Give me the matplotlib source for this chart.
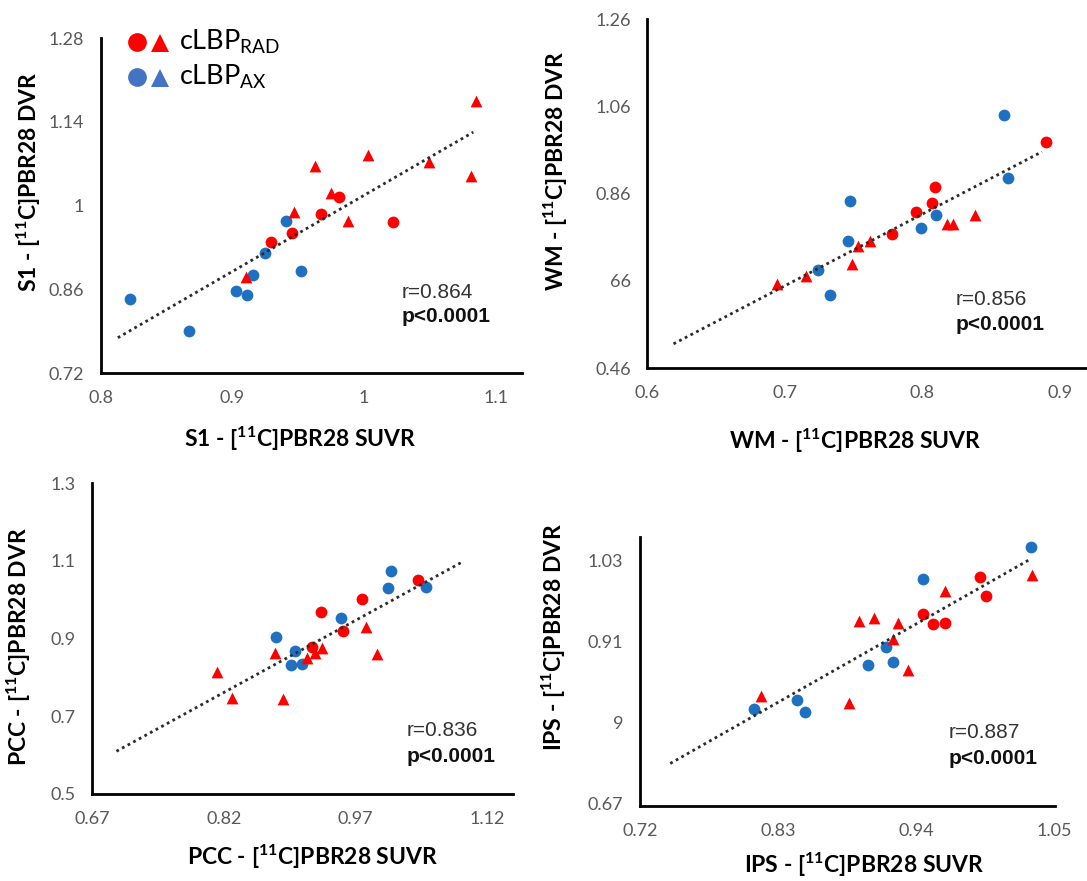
import matplotlib
matplotlib.use("Agg")
import matplotlib.pyplot as plt

plt.rcParams['font.family'] = ['Lato', 'DejaVu Sans']
plt.rcParams['mathtext.fontset'] = 'custom'
plt.rcParams['mathtext.rm'] = 'Lato'
plt.rcParams['mathtext.bf'] = 'Lato:bold'
plt.rcParams['mathtext.it'] = 'Lato:italic'

RED = '#FF0000'
BLUE = '#1F70C1'
LEG_BLUE = '#4472C4'
GREY = '#595959'

# --- S1 ---
s1_rad_circ_x = [0.981, 0.967, 1.022, 0.945, 0.929]
s1_rad_circ_y = [1.015, 0.986, 0.973, 0.955, 0.940]
s1_rad_tri_x = [1.085, 1.003, 1.049, 0.963, 1.081, 0.975, 0.947, 0.988, 0.910]
s1_rad_tri_y = [1.175, 1.084, 1.073, 1.066, 1.049, 1.021, 0.990, 0.975, 0.881]
s1_ax_x = [0.941, 0.925, 0.916, 0.952, 0.903, 0.911, 0.822, 0.867]
s1_ax_y = [0.975, 0.921, 0.884, 0.891, 0.857, 0.850, 0.843, 0.791]
s1_fit_x = [0.813, 1.083]
s1_fit_y = [0.779, 1.123]
s1_xticks = [0.8, 0.9, 1.0, 1.1]
s1_xlabels = ['0.8', '0.9', '1', '1.1']
s1_yticks = [0.72, 0.86, 1.0, 1.14, 1.28]
s1_ylabels = ['0.72', '0.86', '1', '1.14', '1.28']

# --- WM ---
wm_rad_circ_x = [0.890, 0.809, 0.807, 0.795, 0.778]
wm_rad_circ_y = [0.978, 0.875, 0.839, 0.817, 0.767]
wm_rad_tri_x = [0.838, 0.818, 0.8225, 0.762, 0.753, 0.7485, 0.7155, 0.694]
wm_rad_tri_y = [0.811, 0.790, 0.790, 0.752, 0.739, 0.698, 0.672, 0.653]
wm_ax_x = [0.859, 0.862, 0.747, 0.810, 0.799, 0.746, 0.724, 0.7325]
wm_ax_y = [1.039, 0.896, 0.843, 0.811, 0.782, 0.752, 0.684, 0.629]
wm_fit_x = [0.619, 0.887]
wm_fit_y = [0.516, 0.956]
wm_xticks = [0.6, 0.7, 0.8, 0.9]
wm_xlabels = ['0.6', '0.7', '0.8', '0.9']
wm_yticks = [0.46, 0.66, 0.86, 1.06, 1.26]
wm_ylabels = ['0.46', '66', '0.86', '1.06', '1.26']

# --- PCC ---
pcc_rad_circ_x = [1.041, 0.977, 0.931, 0.956, 0.921]
pcc_rad_circ_y = [1.051, 1.003, 0.969, 0.919, 0.879]
pcc_rad_tri_x = [0.982, 0.9146, 0.9237, 0.9317, 0.878, 0.994, 0.812, 0.829, 0.887]
pcc_rad_tri_y = [0.931, 0.851, 0.864, 0.877, 0.862, 0.860, 0.813, 0.747, 0.745]
pcc_ax_x = [1.011, 1.050, 1.007, 0.954, 0.8795, 0.901, 0.896, 0.909]
pcc_ax_y = [1.075, 1.034, 1.031, 0.953, 0.905, 0.869, 0.833, 0.836]
pcc_fit_x = [0.6975, 1.093]
pcc_fit_y = [0.610, 1.099]
pcc_xticks = [0.67, 0.82, 0.97, 1.12]
pcc_xlabels = ['0.67', '0.82', '0.97', '1.12']
pcc_yticks = [0.5, 0.7, 0.9, 1.1, 1.3]
pcc_ylabels = ['0.5', '0.7', '0.9', '1.1', '1.3']

# --- IPS ---
ips_rad_circ_x = [0.991, 0.995, 0.945, 0.953, 0.963]
ips_rad_circ_y = [1.006, 0.977, 0.951, 0.935, 0.937]
ips_rad_tri_x = [1.032, 0.963, 0.906, 0.894, 0.925, 0.921, 0.933, 0.816, 0.886]
ips_rad_tri_y = [1.008, 0.985, 0.945, 0.940, 0.937, 0.914, 0.868, 0.829, 0.818]
ips_ax_x = [1.031, 0.945, 0.916, 0.921, 0.9015, 0.845, 0.8106, 0.851]
ips_ax_y = [1.049, 1.003, 0.901, 0.879, 0.875, 0.823, 0.810, 0.806]
ips_fit_x = [0.744, 1.030]
ips_fit_y = [0.729, 1.031]
ips_xticks = [0.72, 0.83, 0.94, 1.05]
ips_xlabels = ['0.72', '0.83', '0.94', '1.05']
ips_yticks = [0.67, 0.79, 0.91, 1.03]
ips_ylabels = ['0.67', '9', '0.91', '1.03']

W, H = 1087, 881
fig = plt.figure(figsize=(W / 100, H / 100), dpi=100)


def rect(l, t, r, b):
    return [l / W, 1 - b / H, (r - l) / W, (b - t) / H]


def ftext(x, y, s, **kw):
    fig.text(x / W, 1 - y / H, s, **kw)


panels = [
    dict(name='S1', box=(100.7, 38.3, 522, 373), xlim=(0.8, 1.12), ylim=(0.72, 1.28),
         rc=(s1_rad_circ_x, s1_rad_circ_y), rt=(s1_rad_tri_x, s1_rad_tri_y), ax=(s1_ax_x, s1_ax_y),
         fit=(s1_fit_x, s1_fit_y), xt=(s1_xticks, s1_xlabels), yt=(s1_yticks, s1_ylabels),
         r='r=0.864', xl=(300, 439), yl=(29, 182), rp=(402, 292)),
    dict(name='WM', box=(647.4, 19, 1086, 368.3), xlim=(0.6, 0.919), ylim=(0.46, 1.26),
         rc=(wm_rad_circ_x, wm_rad_circ_y), rt=(wm_rad_tri_x, wm_rad_tri_y), ax=(wm_ax_x, wm_ax_y),
         fit=(wm_fit_x, wm_fit_y), xt=(wm_xticks, wm_xlabels), yt=(wm_yticks, wm_ylabels),
         r='r=0.856', xl=(855, 441), yl=(556, 171), rp=(956, 299)),
    dict(name='PCC', box=(92.3, 483.3, 512.5, 794), xlim=(0.67, 1.149), ylim=(0.5, 1.3),
         rc=(pcc_rad_circ_x, pcc_rad_circ_y), rt=(pcc_rad_tri_x, pcc_rad_tri_y), ax=(pcc_ax_x, pcc_ax_y),
         fit=(pcc_fit_x, pcc_fit_y), xt=(pcc_xticks, pcc_xlabels), yt=(pcc_yticks, pcc_ylabels),
         r='r=0.836', xl=(313, 857), yl=(19, 647), rp=(407, 731)),
    dict(name='IPS', box=(640.1, 536.7, 1054.6, 806), xlim=(0.72, 1.05), ylim=(0.666, 1.065),
         rc=(ips_rad_circ_x, ips_rad_circ_y), rt=(ips_rad_tri_x, ips_rad_tri_y), ax=(ips_ax_x, ips_ax_y),
         fit=(ips_fit_x, ips_fit_y), xt=(ips_xticks, ips_xlabels), yt=(ips_yticks, ips_ylabels),
         r='r=0.887', xl=(864, 865), yl=(554, 637), rp=(949, 733)),
]

for p in panels:
    a = fig.add_axes(rect(*p['box']))
    a.scatter(*p['ax'], s=72, marker='o', color=BLUE, linewidths=0, zorder=3)
    a.scatter(*p['rc'], s=72, marker='o', color=RED, linewidths=0, zorder=3)
    a.scatter(*p['rt'], s=72, marker='^', color=RED, linewidths=0, zorder=3)
    # excel-style dotted trendline, drawn over the markers
    a.plot(*p['fit'], color='#2b2b2b', lw=2, ls=(0, (1, 1.3)), zorder=4)
    a.set_xlim(*p['xlim'])
    a.set_ylim(*p['ylim'])
    a.set_xticks(p['xt'][0], p['xt'][1])
    a.set_yticks(p['yt'][0], p['yt'][1])
    a.tick_params(length=0, labelsize=13, labelcolor=GREY)
    a.tick_params(axis='x', pad=12)
    a.tick_params(axis='y', pad=12)
    for sp in ('top', 'right'):
        a.spines[sp].set_visible(False)
    for sp in ('left', 'bottom'):
        a.spines[sp].set_linewidth(2)
        a.spines[sp].set_color('black')
    a.patch.set_alpha(0)

    n = p['name']
    ftext(p['xl'][0], p['xl'][1], n + r' - [$^{\mathbf{11}}$C]PBR28 SUVR',
          ha='center', va='center', fontsize=16.5, fontweight='bold')
    ftext(p['yl'][0], p['yl'][1], n + r' - [$^{\mathbf{11}}$C]PBR28 DVR',
          ha='center', va='center', rotation=90, fontsize=16.5, fontweight='bold')
    ftext(p['rp'][0], p['rp'][1], p['r'], ha='left', va='center', fontsize=15,
          family='Liberation Sans', color='#333333')
    ftext(p['rp'][0], p['rp'][1] + 25, 'p<0.0001', ha='left', va='center', fontsize=15,
          family='Liberation Sans', fontweight='bold', color='#111111')

# legend in the first panel corner
for yy, col, lab in [(42, RED, r'cLBP$_{\mathrm{RAD}}$'), (77, LEG_BLUE, r'cLBP$_{\mathrm{AX}}$')]:
    fig.add_artist(plt.Line2D([136.7 / W], [1 - yy / H], marker='o', ms=13.5, color=col, mew=0,
                              transform=fig.transFigure))
    fig.add_artist(plt.Line2D([160 / W], [1 - (yy + 1) / H], marker='^', ms=12.5, color=col, mew=0,
                              transform=fig.transFigure))
    ftext(179, yy + 8, lab, ha='left', va='baseline', fontsize=19.5)

fig.savefig('out.png', dpi=100)
